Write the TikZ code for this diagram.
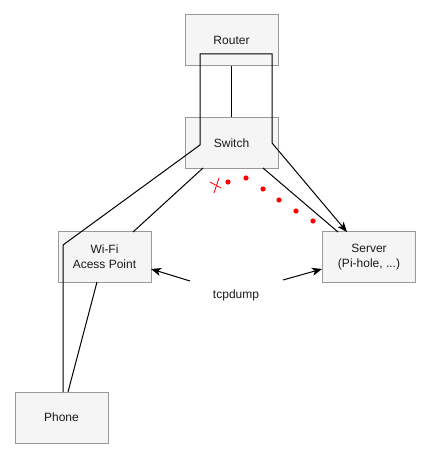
\documentclass[tikz,border=0pt]{standalone}
\usepackage{fontspec}
\setmainfont{Liberation Sans}
\usetikzlibrary{arrows.meta}
\definecolor{boxfill}{HTML}{F5F5F5}
\definecolor{boxline}{HTML}{999999}
\definecolor{txt}{HTML}{1A1A1A}
\begin{document}
\begin{tikzpicture}[x=0.75pt,y=-0.75pt,
  devbox/.style={draw=boxline,fill=boxfill,line width=0.75pt,minimum width=93*0.75pt,minimum height=51*0.75pt,inner sep=0pt,align=center,font=\fontsize{9}{11}\selectfont,text=txt},
  wire/.style={draw=black,line width=0.75pt},
  arr/.style={wire,-{Stealth[length=7.5pt,width=6pt,inset=2pt]}},
  reddot/.style={fill=red,draw=none}]
\useasboundingbox (0,0) rectangle (431,459);
\node[devbox] (router) at (231.5,40.5) {Router};
\node[devbox] (switch) at (231.5,143) {Switch};
\node[devbox] (wifi) at (104.5,257) {Wi-Fi\\Acess Point};
\node[devbox] (server) at (369,257) {Server\\(Pi-hole, ...)};
\node[devbox] (phone) at (61.5,417.5) {Phone};
\node[font=\fontsize{9}{11}\selectfont,text=txt] (tcp) at (236,295) {tcpdump};
% router - switch
\draw[wire] (router.south) -- (switch.north);
% switch - wifi
\coordinate (sw1) at (203,168);
\coordinate (wf1) at (133,232);
\draw[wire] (sw1) -- (wf1);
% switch - server
\coordinate (sw2) at (263,168);
\coordinate (sv1) at (338,232);
\draw[wire] (sw2) -- (sv1);
% wifi - phone
\coordinate (wf2) at (97,282);
\coordinate (ph1) at (68,392);
\draw[wire] (wf2) -- (ph1);
% loop phone -> server
\coordinate (ph2) at (63,392);
\coordinate (l1) at (63,245);
\coordinate (l2) at (200,145);
\coordinate (l3) at (200,54);
\coordinate (l4) at (272,54);
\coordinate (l5) at (272,143);
\coordinate (sv2) at (347,232);
\draw[arr] (ph2) -- (l1) -- (l2) -- (l3) -- (l4) -- (l5) -- (sv2);
% tcpdump arrows
\coordinate (t1) at (190,281);
\coordinate (t2) at (283,280);
\coordinate (wf3) at (151,269);
\coordinate (sv3) at (322,269);
\draw[arr] (t1) -- (wf3);
\draw[arr] (t2) -- (sv3);
% red dots
\foreach \p in {(228,182),(246,178),(263,189),(279,200),(296,211),(313,221)}
  \fill[reddot] \p circle (2.6*0.75pt);
% red cross
\coordinate (x1) at (210,182);
\coordinate (x2) at (221,188);
\coordinate (x3) at (214,193);
\coordinate (x4) at (219,178);
\draw[red,line width=0.6pt] (x1) -- (x2);
\draw[red,line width=0.6pt] (x3) -- (x4);
\end{tikzpicture}
\end{document}
